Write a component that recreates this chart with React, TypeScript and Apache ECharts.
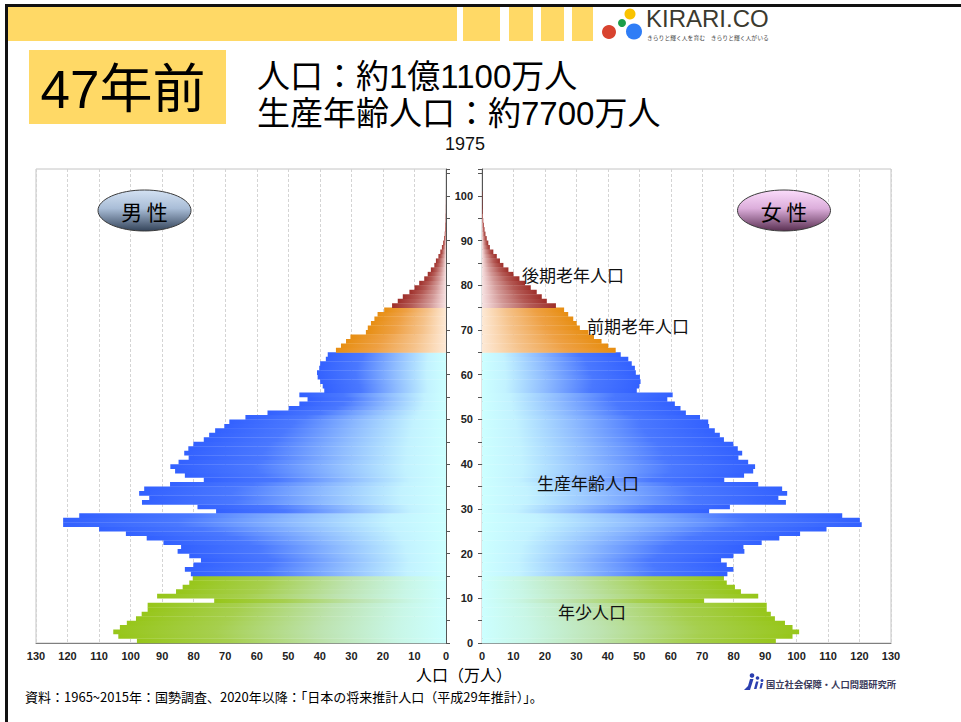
import React, { useEffect, useRef } from "react";
import * as echarts from "echarts";

// ---- data (1975, 万人) ----
const MALE = [
  98.0, 103.9, 105.5, 103.4, 101.2, 98.3, 96.5, 94.6, 94.6, 73.5,
  91.6, 85.6, 83.5, 81.4, 80.3, 80.9, 82.8, 80.1, 77.7, 81.4,
  85.1, 84.0, 89.6, 94.9, 101.5, 110.0, 121.4, 121.4, 116.3, 72.9,
  78.8, 96.4, 94.1, 97.3, 95.7, 87.5, 76.8, 82.8, 85.9, 87.4,
  84.8, 81.6, 83.0, 81.7, 80.1, 76.8, 75.1, 73.2, 70.3, 68.7,
  63.6, 56.6, 49.9, 46.5, 43.9, 46.5, 38.6, 39.1, 39.9, 40.7,
  40.9, 40.2, 39.9, 38.1, 37.5, 34.9, 33.3, 31.7, 30.3, 25.4,
  24.8, 23.8, 22.7, 21.7, 19.6, 17.1, 15.3, 13.7, 11.6, 10.0,
  8.5, 6.9, 5.8, 4.8, 3.7, 3.2, 2.4, 1.8, 1.3, 0.9,
  0.6, 0.4, 0.3, 0.2, 0.1, 0.1, 0.05, 0.05, 0.03, 0.02,
  0.01,
];
const FEMALE = [
  93.4, 98.7, 100.8, 98.7, 96.3, 93.1, 91.8, 90.5, 90.5, 70.6,
  87.8, 82.3, 80.4, 77.8, 76.9, 78.0, 79.9, 77.8, 76.0, 79.9,
  83.4, 83.1, 88.9, 94.5, 101.1, 109.5, 120.7, 120.1, 114.5, 72.2,
  78.8, 96.6, 94.2, 97.0, 95.4, 87.8, 77.0, 83.3, 86.2, 86.8,
  84.6, 81.5, 82.7, 81.3, 79.9, 76.9, 75.6, 74.0, 72.2, 71.9,
  69.3, 64.8, 63.1, 61.3, 58.9, 60.6, 49.2, 50.0, 50.4, 50.2,
  48.9, 48.6, 47.6, 46.5, 44.1, 42.5, 40.1, 38.0, 35.6, 33.8,
  31.1, 30.1, 29.0, 27.4, 26.1, 23.5, 20.6, 19.0, 17.4, 15.5,
  13.7, 11.9, 10.0, 8.4, 6.8, 5.7, 4.7, 3.6, 2.5, 2.0,
  1.5, 1.1, 0.8, 0.6, 0.4, 0.3, 0.2, 0.15, 0.1, 0.1,
  0.1,
];
// age group boundaries: first age of each group
const GROUP_START = [0, 15, 65, 75];
const GROUP_LABELS = ["年少人口", "生産年齢人口", "前期老年人口", "後期老年人口"];
const X_MAX = 130;
const AGE_MAX = 106;

// gradient colour stops, outer end -> centre
const GROUP_STOPS: [number, string][][] = [
  [[0, "#97c61a"], [0.3, "#a6cf4e"], [0.62, "#bde3b0"], [0.85, "#c8f6e6"], [1, "#ccffff"]],
  [[0, "#3361ff"], [0.3, "#4a78ff"], [0.6, "#8fbcff"], [0.85, "#c2f2ff"], [1, "#ccffff"]],
  [[0, "#e78e12"], [0.35, "#eea043"], [0.7, "#f5c28a"], [0.9, "#fbdcbc"], [1, "#fde9d6"]],
  [[0, "#9e2f2a"], [0.35, "#b45a55"], [0.7, "#d39a98"], [0.9, "#eccaca"], [1, "#f6e2e2"]],
];

function groupOf(age: number) {
  let g = 0;
  for (let i = 0; i < GROUP_START.length; i++) if (age >= GROUP_START[i]) g = i;
  return g;
}

function gradient(age: number, outerLeft: boolean) {
  const stops = GROUP_STOPS[groupOf(age)];
  const list = outerLeft
    ? stops.map(([o, c]) => ({ offset: o, color: c }))
    : stops
        .slice()
        .reverse()
        .map(([o, c]) => ({ offset: 1 - o, color: c }));
  return { type: "linear", x: 0, y: 0, x2: 1, y2: 0, colorStops: list };
}

const JP = '"Noto Sans CJK JP", "Noto Sans", sans-serif';
const LAT_JP = '"Liberation Sans", "Noto Sans CJK JP", sans-serif';

export default function App() {
  const ref = useRef<HTMLDivElement>(null);
  useEffect(() => {
    if (!ref.current) return;
    const chart = echarts.init(ref.current, undefined, { renderer: "svg" });

    const makeRender = (outerLeft: boolean) => (params: any, api: any) => {
      const val = api.value(0);
      const age = api.value(1);
      const p0 = api.coord([0, age]);
      const p1 = api.coord([val, age + 1]);
      const x = Math.min(p0[0], p1[0]);
      const w = Math.abs(p1[0] - p0[0]);
      const y = Math.min(p0[1], p1[1]);
      const h = Math.abs(p0[1] - p1[1]);
      return {
        type: "rect",
        shape: { x, y, width: w, height: h + 0.3 },
        style: { fill: gradient(age, outerLeft) },
      };
    };

    const axisLabelStyle = {
      fontSize: 11,
      fontWeight: "bold",
      color: "#222",
      fontFamily: '"Liberation Sans Narrow", "Liberation Sans", Arial, sans-serif',
    };

    const grids = [
      { left: 36, top: 169, width: 410, height: 474 },
      { left: 482, top: 169, width: 409, height: 474 },
    ].map((g) => ({
      ...g,
      show: true,
      backgroundColor: "#fff",
      borderColor: "#c4c4c4",
      borderWidth: 1,
      containLabel: false,
    }));

    const xAxes = [0, 1].map((i) => ({
      type: "value",
      gridIndex: i,
      min: 0,
      max: X_MAX,
      interval: 10,
      inverse: i === 0,
      axisLine: { show: true, lineStyle: { color: "#7f7f7f", width: 1 } },
      axisTick: { show: false },
      axisLabel: { ...axisLabelStyle, margin: 7 },
      splitLine: { show: true, lineStyle: { color: "#d4d4d4", type: [3, 2], width: 1 } },
    }));

    const yAxes = [0, 1].map((i) => ({
      type: "value",
      gridIndex: i,
      min: 0,
      max: AGE_MAX,
      interval: 5,
      position: i === 0 ? "right" : "left",
      axisLine: { show: true, onZero: false, lineStyle: { color: "#555", width: 1 } },
      axisTick: { show: true, length: 4, lineStyle: { color: "#555" } },
      axisLabel: {
        show: i === 1,
        ...axisLabelStyle,
        margin: 9,
        formatter: (v: number) => (v % 10 === 0 && v <= 100 ? String(v) : ""),
      },
      splitLine: { show: false },
    }));

    const ellipse = (cx: number, top: string, mid: string, bottom: string, label: string) => [
      {
        type: "ellipse",
        z: 20,
        shape: { cx, cy: 210.5, rx: 46.5, ry: 20.5 },
        style: {
          fill: {
            type: "linear", x: 0, y: 0, x2: 0, y2: 1,
            colorStops: [
              { offset: 0, color: top },
              { offset: 0.45, color: mid },
              { offset: 1, color: bottom },
            ],
          },
          stroke: "#3a3a3a",
          lineWidth: 1,
        },
      },
      {
        type: "text",
        z: 21,
        style: {
          text: label,
          x: cx,
          y: 211,
          textAlign: "center",
          textVerticalAlign: "middle",
          fontSize: 21,
          fontFamily: JP,
          fill: "#000",
        },
      },
    ];

    const annot = (text: string, x: number, y: number) => ({
      type: "text",
      z: 20,
      style: {
        text,
        x,
        y,
        textAlign: "left",
        textVerticalAlign: "middle",
        fontSize: 17,
        fontFamily: JP,
        fill: "#111",
      },
    });

    const graphics: any[] = [
      // frame lines
      { type: "rect", shape: { x: 5, y: 4, width: 956, height: 3 }, style: { fill: "#111" } },
      { type: "rect", shape: { x: 5, y: 4, width: 3, height: 718 }, style: { fill: "#111" } },
      // header yellow band
      { type: "rect", shape: { x: 8, y: 7, width: 449, height: 34 }, style: { fill: "#ffd966" } },
      { type: "rect", shape: { x: 463, y: 7, width: 37, height: 34 }, style: { fill: "#ffd966" } },
      { type: "rect", shape: { x: 509, y: 7, width: 24, height: 34 }, style: { fill: "#ffd966" } },
      { type: "rect", shape: { x: 541, y: 7, width: 23, height: 34 }, style: { fill: "#ffd966" } },
      { type: "rect", shape: { x: 572, y: 7, width: 21, height: 34 }, style: { fill: "#ffd966" } },
      // KIRARI logo
      { type: "circle", shape: { cx: 609, cy: 32, r: 7 }, style: { fill: "#d8432f" } },
      { type: "circle", shape: { cx: 622, cy: 23, r: 4 }, style: { fill: "#1a9e4a" } },
      { type: "circle", shape: { cx: 630, cy: 14, r: 5.5 }, style: { fill: "#f9c300" } },
      { type: "circle", shape: { cx: 634, cy: 31.5, r: 8 }, style: { fill: "#2f7df6" } },
      {
        type: "text",
        style: {
          text: "KIRARI.CO", x: 646, y: 18.5, textVerticalAlign: "middle",
          fontSize: 24, lineHeight: 24, fontFamily: '"Liberation Sans", Arial, sans-serif', fill: "#3b3a2f",
        },
      },
      {
        type: "text",
        style: {
          text: "きらりと輝く人を育む　きらりと輝く人がいる", x: 647, y: 37, textVerticalAlign: "middle",
          fontSize: 5.8, lineHeight: 6, fontFamily: JP, fill: "#444",
        },
      },
      // 47年前 box
      { type: "rect", shape: { x: 29, y: 50, width: 197, height: 74 }, style: { fill: "#ffd966" } },
      {
        type: "text",
        style: {
          text: "47年前", x: 123, y: 89, textAlign: "center", textVerticalAlign: "middle",
          fontSize: 53, fontFamily: LAT_JP, fill: "#000",
        },
      },
      {
        type: "text",
        style: {
          text: "人口：約1億1100万人", x: 257, y: 76, textVerticalAlign: "middle",
          fontSize: 33, lineHeight: 33, fontFamily: LAT_JP, fill: "#000",
        },
      },
      {
        type: "text",
        style: {
          text: "生産年齢人口：約7700万人", x: 257, y: 113.5, textVerticalAlign: "middle",
          fontSize: 33, lineHeight: 33, fontFamily: LAT_JP, fill: "#000",
        },
      },
      {
        type: "text",
        style: {
          text: "1975", x: 465, y: 144, textAlign: "center", textVerticalAlign: "middle",
          fontSize: 18, lineHeight: 18, fontFamily: '"Liberation Sans", Arial, sans-serif', fill: "#111",
        },
      },
      ...ellipse(144.5, "#d3e1f2", "#a9bdd7", "#34445a", "男 性"),
      ...ellipse(784, "#fbdcfb", "#dcaedb", "#5a2f52", "女 性"),
      annot(GROUP_LABELS[3], 522, 274),
      annot(GROUP_LABELS[2], 587, 325),
      annot(GROUP_LABELS[1], 537, 482),
      annot(GROUP_LABELS[0], 558, 611),
      {
        type: "text",
        style: {
          text: "人口（万人）", x: 464, y: 674, textAlign: "center", textVerticalAlign: "middle",
          fontSize: 16, lineHeight: 16, fontFamily: JP, fill: "#000",
        },
      },
      {
        type: "text",
        style: {
          text: "資料：1965~2015年：国勢調査、2020年以降：「日本の将来推計人口（平成29年推計）」。",
          x: 25, y: 696, textVerticalAlign: "middle",
          fontSize: 13, lineHeight: 13, fontFamily: JP, fill: "#000",
        },
      },
      // bottom-right institute logo
      { type: "circle", shape: { cx: 752, cy: 675.5, r: 2.3 }, style: { fill: "#2b3fb0" } },
      { type: "circle", shape: { cx: 757.5, cy: 678, r: 1.8 }, style: { fill: "#2b3fb0" } },
      { type: "circle", shape: { cx: 762, cy: 680.5, r: 1.5 }, style: { fill: "#2b3fb0" } },
      {
        type: "polygon",
        shape: { points: [[750, 679], [753.5, 679], [750, 690], [744, 690], [748, 686]] },
        style: { fill: "#2b3fb0" },
      },
      {
        type: "polygon",
        shape: { points: [[756, 681.5], [758.5, 681.5], [756.5, 689], [754, 689]] },
        style: { fill: "#2b3fb0" },
      },
      {
        type: "polygon",
        shape: { points: [[760.8, 683], [763, 683], [761.5, 688.5], [759.5, 688.5]] },
        style: { fill: "#2b3fb0" },
      },
      {
        type: "text",
        style: {
          text: "国立社会保障・人口問題研究所", x: 766, y: 683.5, textVerticalAlign: "middle",
          fontSize: 9.3, lineHeight: 10, fontWeight: "bold", fontFamily: JP, fill: "#3a3a5a",
        },
      },
    ];

    chart.setOption({
      animation: false,
      backgroundColor: "#fff",
      grid: grids,
      xAxis: xAxes,
      yAxis: yAxes,
      series: [
        {
          type: "custom",
          name: "男性",
          xAxisIndex: 0,
          yAxisIndex: 0,
          renderItem: makeRender(true),
          data: MALE.map((v, age) => [v, age]),
          encode: { x: 0, y: 1 },
        },
        {
          type: "custom",
          name: "女性",
          xAxisIndex: 1,
          yAxisIndex: 1,
          renderItem: makeRender(false),
          data: FEMALE.map((v, age) => [v, age]),
          encode: { x: 0, y: 1 },
        },
      ],
      graphic: graphics,
    });

    return () => chart.dispose();
  }, []);

  return (
    <div
      ref={ref}
      style={{ position: "absolute", left: 0, top: 0, width: 961, height: 722, background: "#fff" }}
    />
  );
}
